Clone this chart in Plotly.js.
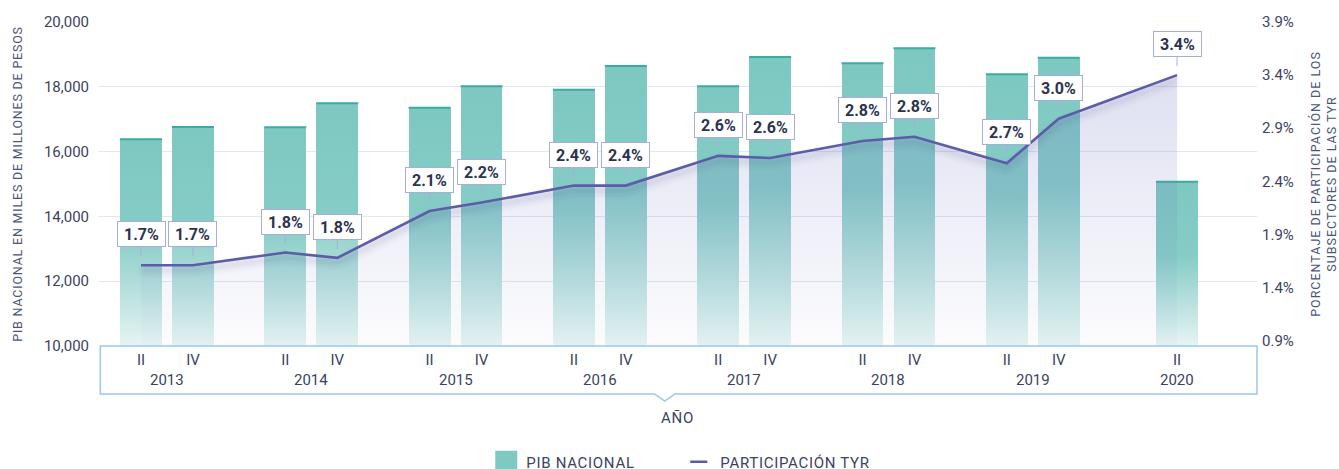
<!DOCTYPE html>
<html>
<head>
<meta charset="utf-8">
<script src="https://cdn.plot.ly/plotly-3.0.1.min.js"></script>
<style>
  html, body { margin: 0; padding: 0; background: #ffffff; }
  #chart { width: 1339px; height: 469px; }
  #fxdefs { position: absolute; width: 0; height: 0; overflow: hidden; }
</style>
</head>
<body>
<svg id="fxdefs" xmlns="http://www.w3.org/2000/svg" width="0" height="0" aria-hidden="true">
  <defs>
    <linearGradient id="pibGrad" x1="0" y1="0" x2="0" y2="1">
      <stop offset="0" stop-color="#7ec8c2"></stop>
      <stop offset="0.45" stop-color="#86ccc6"></stop>
      <stop offset="1" stop-color="#e6f4f3"></stop>
    </linearGradient>
    <filter id="lineShadow" x="-5%" y="-30%" width="110%" height="180%">
      <feDropShadow dx="0" dy="5" stdDeviation="3" flood-color="#3c3c6e" flood-opacity="0.33"></feDropShadow>
    </filter>
  </defs>
</svg>
<div id="chart"></div>
<script>
// ---- Data ----
var anios = ['2013', '2014', '2015', '2016', '2017', '2018', '2019', '2020'];
var periodoAnio = ['2013', '2013', '2014', '2014', '2015', '2015', '2016', '2016',
                   '2017', '2017', '2018', '2018', '2019', '2019', '2020'];
var trimestres = ['II', 'IV', 'II', 'IV', 'II', 'IV', 'II', 'IV',
                  'II', 'IV', 'II', 'IV', 'II', 'IV', 'II'];
var pibNacional = [16380, 16760, 16750, 17490, 17355, 18015, 17910, 18640,
                   18015, 18920, 18725, 19190, 18385, 18900, 15070];
var participacionTyr = [1.61, 1.61, 1.73, 1.68, 2.12, 2.20, 2.36, 2.36,
                        2.64, 2.62, 2.78, 2.82, 2.57, 2.99, 3.40];
var etiquetas = ['1.7%', '1.7%', '1.8%', '1.8%', '2.1%', '2.2%', '2.4%', '2.4%',
                 '2.6%', '2.6%', '2.8%', '2.8%', '2.7%', '3.0%', '3.4%'];
var pibTicks = [10000, 12000, 14000, 16000, 18000, 20000];

// ---- Positions: each year is one band; quarters sit side by side inside it ----
var offsetTrim = 0.18;
var posX = periodoAnio.map(function (a, i) {
  var idx = anios.indexOf(a);
  var n = periodoAnio.filter(function (b) { return b === a; }).length;
  if (n === 1) return idx;
  return idx + (trimestres[i] === 'II' ? -offsetTrim : offsetTrim);
});
var ejeMin = pibTicks[0];
var ejeMax = pibTicks[pibTicks.length - 1];

var FONT = 'Roboto, "Noto Sans", sans-serif';
var TXT = '#3b4362';
var TITLE = '#4a5578';

var traces = [
  {
    type: 'bar', name: 'PIB NACIONAL', x: posX,
    y: pibNacional.map(function (v) { return v - ejeMin; }), base: ejeMin,
    width: 0.29, marker: { color: '#80c9c3' },
    hoverinfo: 'skip', xaxis: 'x', yaxis: 'y'
  },
  {
    type: 'scatter', mode: 'markers', x: posX, y: pibNacional,
    showlegend: false, hoverinfo: 'skip',
    marker: { symbol: 'line-ew', size: 30, line: { color: '#3aada1', width: 2 } },
    xaxis: 'x', yaxis: 'y'
  },
  {
    type: 'scatter', mode: 'none', x: posX, y: participacionTyr,
    fill: 'tozeroy', showlegend: false, hoverinfo: 'skip',
    fillgradient: {
      type: 'vertical', start: 0.85, stop: 3.4,
      colorscale: [[0, 'rgba(105,114,191,0.02)'], [1, 'rgba(105,114,191,0.22)']]
    },
    xaxis: 'x', yaxis: 'y2'
  },
  {
    type: 'scatter', mode: 'lines', name: 'PARTICIPACIÓN TYR',
    x: posX, y: participacionTyr,
    line: { color: '#5d5ba8', width: 2.6 },
    hoverinfo: 'skip', xaxis: 'x', yaxis: 'y2'
  }
];

var annotations = etiquetas.map(function (t, i) {
  return {
    xref: 'x', yref: 'y2', x: posX[i], y: participacionTyr[i],
    text: '<b>' + t + '</b>', showarrow: true, ax: 0, ay: -31,
    arrowhead: 0, arrowwidth: 1, arrowcolor: '#a8aedb', standoff: 9,
    font: { family: FONT, size: 16, color: '#2c3350' },
    bgcolor: '#ffffff', bordercolor: '#a8aedb', borderwidth: 1, borderpad: 3,
    width: 41, height: 18
  };
});
anios.forEach(function (a, i) {
  annotations.push({
    xref: 'x', yref: 'paper', x: i, y: -0.105, yanchor: 'middle',
    text: a, showarrow: false,
    font: { family: FONT, size: 15, color: TXT }
  });
});

// x-axis frame box with a small notch under the centre
var bx0 = 0.002, bx1 = 1, by0 = 0, by1 = -0.148, nx = 0.489, nw = 0.0088, nd = 0.022;
var framePath = 'M' + bx0 + ',' + by0 + ' L' + bx0 + ',' + by1 +
  ' L' + (nx - nw) + ',' + by1 + ' L' + nx + ',' + (by1 - nd) +
  ' L' + (nx + nw) + ',' + by1 + ' L' + bx1 + ',' + by1 + ' L' + bx1 + ',' + by0 + ' Z';

var layout = {
  width: 1339, height: 469,
  margin: { l: 98, r: 82, t: 22, b: 123, autoexpand: false },
  paper_bgcolor: '#ffffff', plot_bgcolor: '#ffffff',
  font: { family: FONT, color: TXT },
  showlegend: true, hovermode: false,
  bargap: 0,
  xaxis: {
    range: [-0.478, 7.554], tickvals: posX, ticktext: trimestres,
    showgrid: false, zeroline: false, showline: false, ticks: '',
    ticklabelstandoff: 3,
    tickfont: { family: FONT, size: 15, color: TXT },
    title: { text: 'AÑO', font: { family: FONT, size: 15, color: TXT }, standoff: 44 },
    fixedrange: true
  },
  yaxis: {
    range: [ejeMin, ejeMax], tickvals: pibTicks, tickformat: ',d',
    showgrid: true, gridcolor: '#e3e7f3', gridwidth: 1, zeroline: false,
    showline: false, ticks: '', ticklabelstandoff: 8,
    tickfont: { family: FONT, size: 15, color: TXT },
    title: {
      text: 'PIB NACIONAL EN MILES DE MILLONES DE PESOS',
      font: { family: FONT, size: 12.5, color: TITLE }, standoff: 18
    },
    fixedrange: true
  },
  yaxis2: {
    overlaying: 'y', side: 'right', range: [0.85, 3.9],
    tick0: 0.9, dtick: 0.5, tickformat: '.1f', ticksuffix: '%',
    showgrid: false, zeroline: false, showline: false, ticks: '',
    ticklabelstandoff: 4,
    tickfont: { family: FONT, size: 15, color: TXT },
    title: {
      text: 'PORCENTAJE DE PARTICIPACIÓN DE LOS<br>SUBSECTORES DE LAS TYR',
      font: { family: FONT, size: 12.5, color: TITLE }, standoff: 22
    },
    fixedrange: true
  },
  legend: {
    orientation: 'h', x: 0.335, xanchor: 'left', y: -0.307, yanchor: 'top',
    font: { family: FONT, size: 15, color: TXT },
    bgcolor: 'rgba(0,0,0,0)', entrywidth: 149, traceorder: 'normal'
  },
  shapes: [{
    type: 'path', xref: 'paper', yref: 'paper', path: framePath,
    line: { color: '#9cc6ee', width: 1.5 }, fillcolor: 'rgba(0,0,0,0)', layer: 'above'
  }],
  annotations: annotations
};

function applyStyles(gd) {
  gd.querySelectorAll('.barlayer .point path').forEach(function (p) {
    p.style.fill = 'url(#pibGrad)';
  });
  gd.querySelectorAll('.scatterlayer .trace').forEach(function (tr) {
    var l = tr.querySelector('.js-line');
    if (l && (l.getAttribute('d') || '').length > 0 && (l.style.stroke || '').indexOf('93') >= 0) {
      l.style.filter = 'url(#lineShadow)';
    }
  });
  gd.querySelectorAll('.legend .legendpoints path').forEach(function (p) {
    if ((p.getAttribute('d') || '').indexOf('M6,6H-6V-6H6Z') === 0) {
      p.setAttribute('d', 'M11,11H-11V-11H11Z');
    }
  });
  gd.querySelectorAll('.legend .legendlines path').forEach(function (p) {
    p.setAttribute('d', 'M10,0h17');
  });
  gd.querySelectorAll('.legend .legendtext').forEach(function (t) { t.style.letterSpacing = '0.7px'; });
  gd.querySelectorAll('.g-ytitle text').forEach(function (t) { t.style.letterSpacing = '0.8px'; });
  gd.querySelectorAll('.g-y2title text').forEach(function (t) { t.style.letterSpacing = '1px'; });
  gd.querySelectorAll('.g-xtitle text').forEach(function (t) { t.style.letterSpacing = '0.8px'; });
}

var gdiv = document.getElementById('chart');
var p = Plotly.newPlot(gdiv, traces, layout, { displayModeBar: false, staticPlot: true });
applyStyles(gdiv);
p.then(function () { applyStyles(gdiv); });
gdiv.on && gdiv.on('plotly_afterplot', function () { applyStyles(gdiv); });
setTimeout(function () { applyStyles(gdiv); }, 50);
</script>
</body>
</html>
